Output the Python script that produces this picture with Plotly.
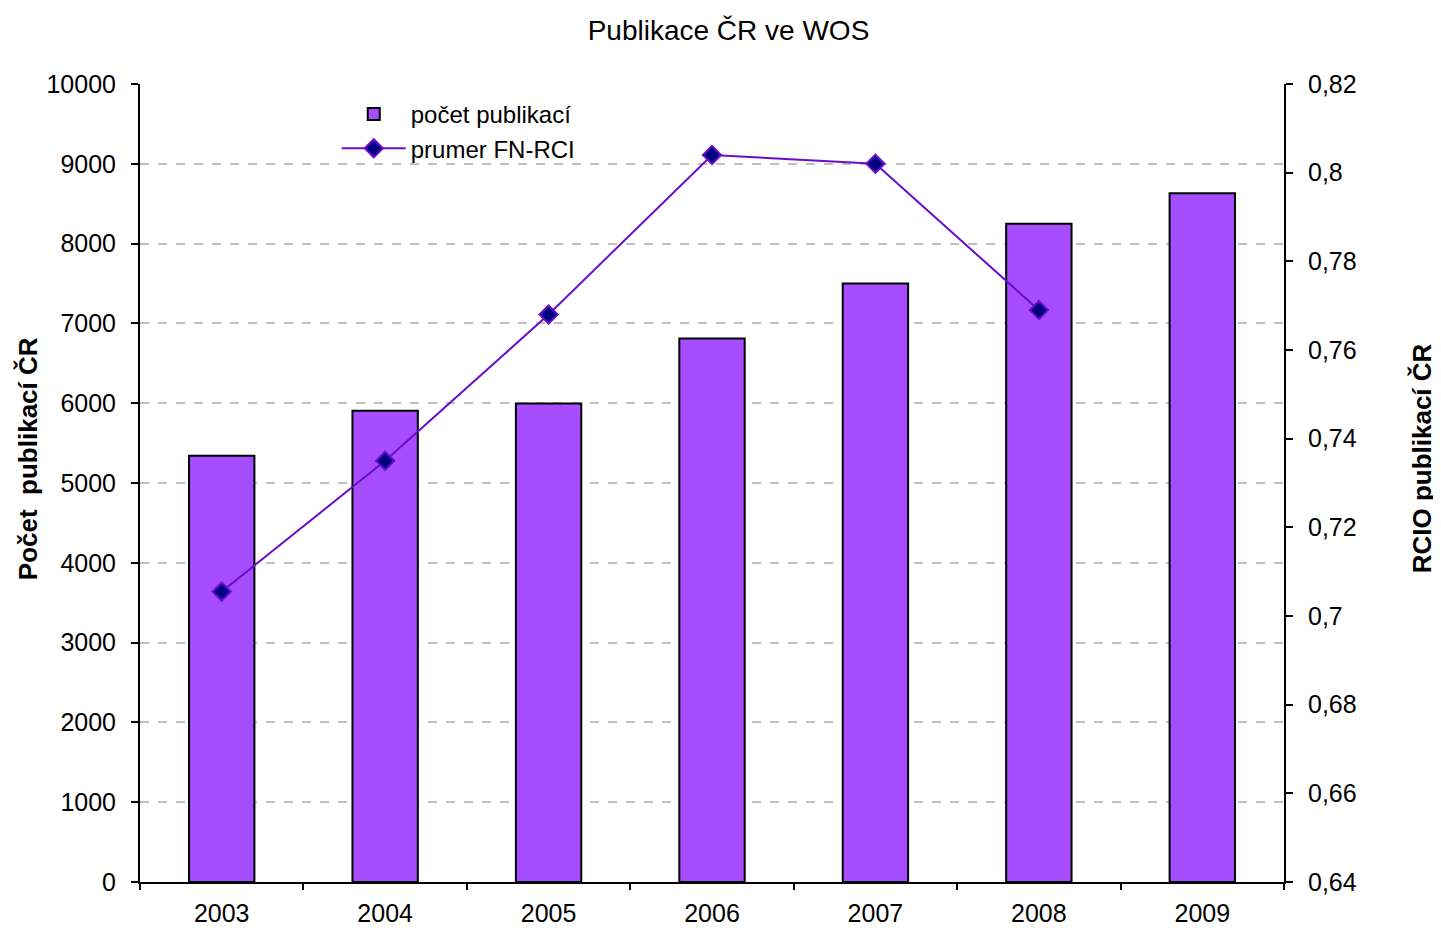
import plotly.graph_objects as go

years = ["2003", "2004", "2005", "2006", "2007", "2008", "2009"]
pocet_publikaci = [5340, 5905, 5995, 6810, 7500, 8250, 8630]
prumer_fn_rci = [0.7055, 0.735, 0.768, 0.804, 0.802, 0.769, None]

right_tickvals = [0.64, 0.66, 0.68, 0.70, 0.72, 0.74, 0.76, 0.78, 0.80, 0.82]
right_ticktext = ["0,64", "0,66", "0,68", "0,7", "0,72", "0,74", "0,76", "0,78", "0,8", "0,82"]

font_family = "Liberation Sans, Arial, sans-serif"

fig = go.Figure()

fig.add_trace(go.Bar(
    x=years, y=pocet_publikaci,
    name="počet publikací",
    marker=dict(color="#A64DFF", line=dict(color="#000000", width=2)),
    width=0.4,
    yaxis="y",
))

fig.add_trace(go.Scatter(
    x=years, y=prumer_fn_rci,
    name="prumer FN-RCI",
    mode="lines+markers",
    line=dict(color="#6A0DCC", width=2),
    marker=dict(symbol="diamond", size=14, color="#000080",
                line=dict(color="#6A0DCC", width=2)),
    yaxis="y2",
))

# page body adds an 8px offset, margins compensate for it
fig.update_layout(
    width=1441, height=928,
    paper_bgcolor="white", plot_bgcolor="white",
    margin=dict(l=132, r=165, t=76, b=54, autoexpand=False),
    font=dict(family=font_family, size=25, color="#000000"),
    title=dict(text="Publikace ČR ve WOS", x=0.5, xanchor="center",
               y=0.976, yanchor="middle", font=dict(size=28)),
    showlegend=True,
    legend=dict(x=0.172, y=0.99, xanchor="left", yanchor="top",
                bgcolor="rgba(255,255,255,0)", font=dict(size=24),
                tracegroupgap=0, itemwidth=64),
    xaxis=dict(
        type="category", showline=True, linecolor="#000000", linewidth=2,
        ticks="outside", tickson="boundaries", ticklen=6, tickwidth=2,
        tickcolor="#000000", showgrid=False, tickfont=dict(size=25),
        ticklabelstandoff=8,
    ),
    yaxis=dict(
        range=[0, 10000], dtick=1000, tickformat="d",
        showline=True, linecolor="#000000", linewidth=2,
        ticks="outside", ticklen=7, tickwidth=2, tickcolor="#000000",
        ticklabelstandoff=10,
        showgrid=True, gridcolor="#C0C0C0", griddash="dash", gridwidth=2,
        zeroline=False, tickfont=dict(size=25),
    ),
    yaxis2=dict(
        range=[0.64, 0.82], overlaying="y", side="right",
        tickvals=right_tickvals, ticktext=right_ticktext,
        showline=True, linecolor="#000000", linewidth=2,
        ticks="outside", ticklen=7, tickwidth=2, tickcolor="#000000",
        ticklabelstandoff=10,
        showgrid=False, zeroline=False, tickfont=dict(size=25),
    ),
)

# axis titles sit a bit above the plot centre, as in the source chart
fig.add_annotation(text="<b>Počet  publikací ČR</b>", textangle=-90,
                   xref="paper", yref="paper", x=-0.098, y=0.531,
                   xanchor="center", yanchor="middle", showarrow=False,
                   font=dict(size=26))
fig.add_annotation(text="<b>RCIO publikací ČR</b>", textangle=-90,
                   xref="paper", yref="paper", x=1.1207, y=0.531,
                   xanchor="center", yanchor="middle", showarrow=False,
                   font=dict(size=26))

fig.write_html("out.html")
